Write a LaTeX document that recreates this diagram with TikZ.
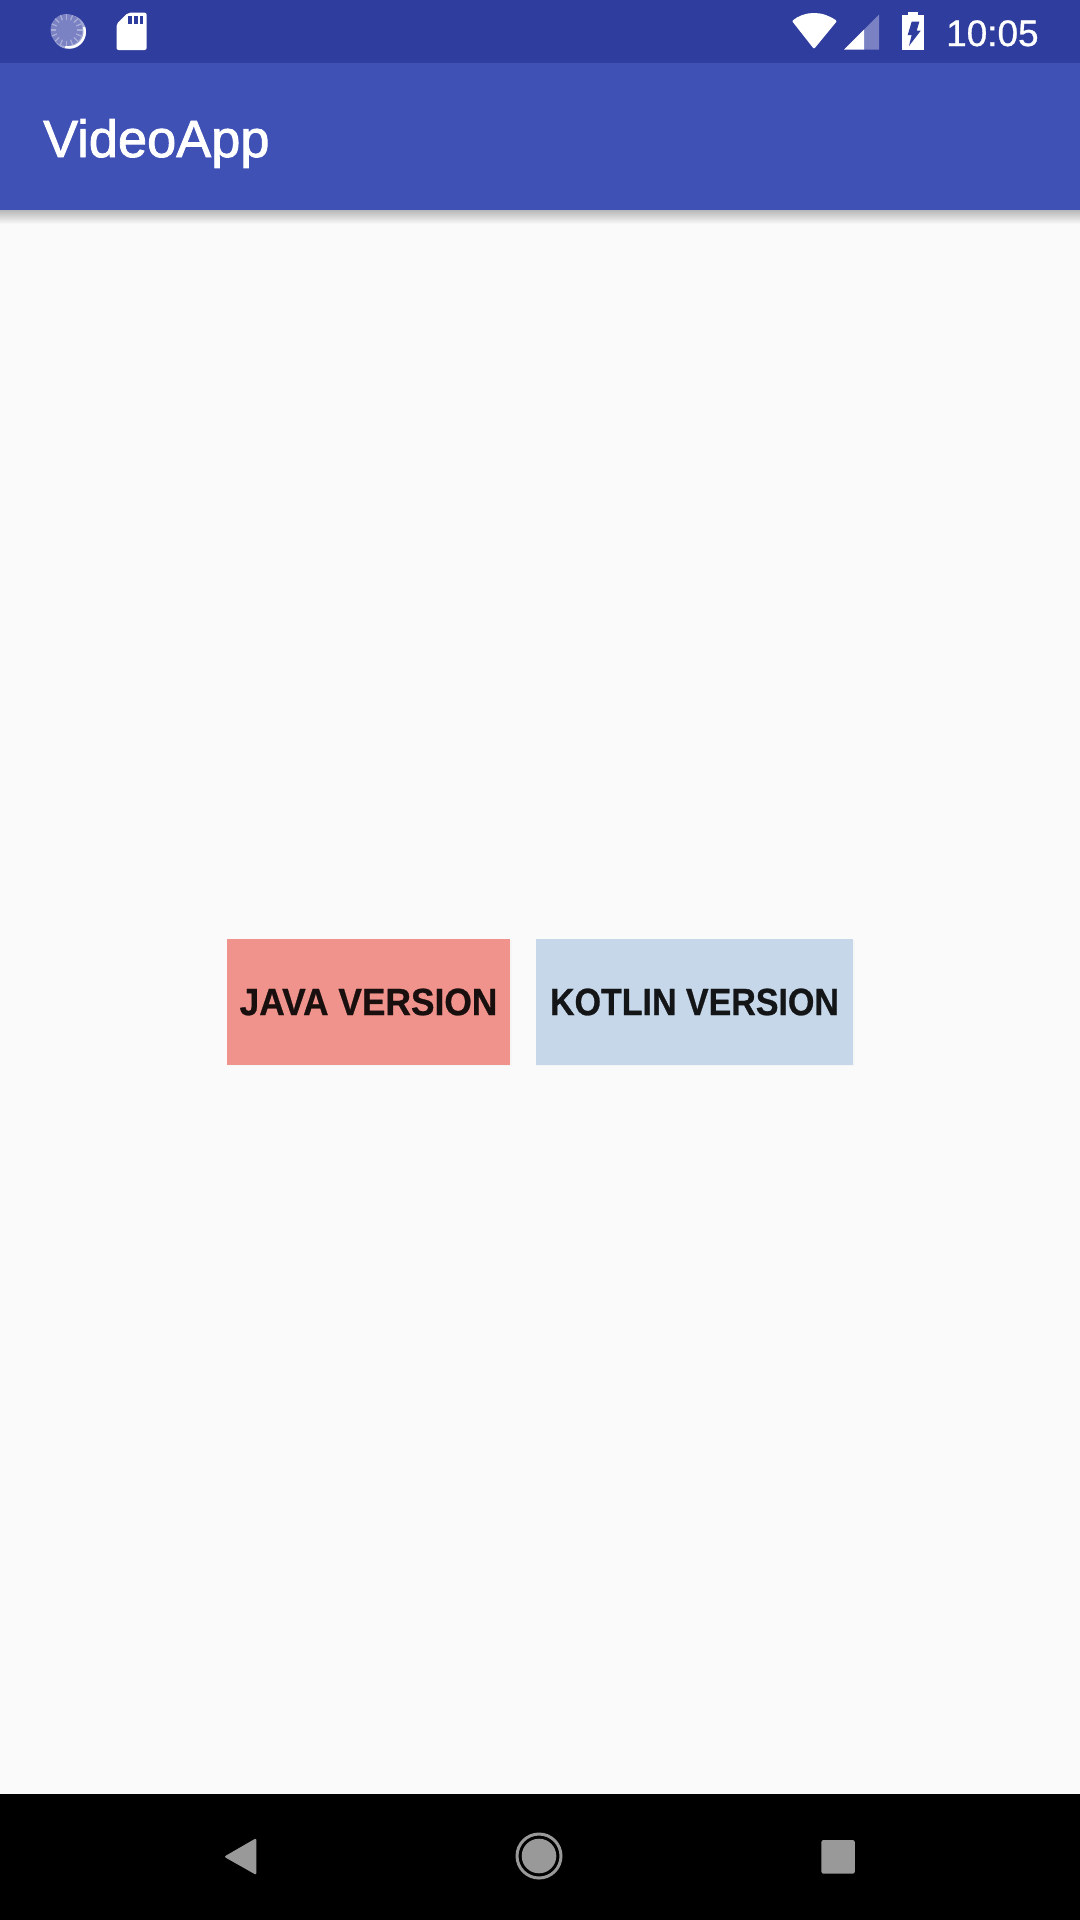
\documentclass[tikz,border=0pt]{standalone}
\usepackage{fontspec}
\setmainfont{Liberation Sans}
\newfontfamily\titlefont[FakeBold=1.6]{Liberation Sans}
\newfontfamily\clockfont[FakeBold=0.8]{Liberation Sans}
\newfontfamily\javafont[FakeStretch=0.93,FakeBold=0.7]{Liberation Sans Bold}
\newfontfamily\kotlinfont[FakeStretch=0.895,FakeBold=0.7]{Liberation Sans Bold}
\definecolor{statuscol}{HTML}{2F3D9E}
\definecolor{barcol}{HTML}{3F51B5}
\definecolor{pagecol}{HTML}{FAFAFA}
\definecolor{dimcol}{HTML}{7A82C3}
\definecolor{navcol}{HTML}{999999}
\definecolor{javacol}{HTML}{F0938C}
\definecolor{kotlincol}{HTML}{C5D7E9}
\tikzset{
	buttonbox/.style={minimum width=#1,minimum height=1.26cm},
	whitetext/.style={text=white,anchor=base west},
}

\begin{document}
\begin{tikzpicture}[x=0.01cm,y=0.01cm]
	\tikzstyle{every node}+=[inner sep=0pt]
	% page and bars
	\useasboundingbox (0,0) rectangle (1080,-1920);
	\fill [pagecol] (0,0) rectangle (1080,-1920);
	\shade [top color=black!28,bottom color=pagecol] (0,-210) rectangle (1080,-224);
	\fill [barcol] (0,-63) rectangle (1080,-210);
	\fill [statuscol] (0,0) rectangle (1080,-63);
	\fill [black] (0,-1794) rectangle (1080,-1920);
	\node [whitetext,font=\titlefont\fontsize{14.9}{18}\selectfont] (title) at (42.5,-157) {VideoApp};
	% spinner
	\fill [dimcol!70!white] (69,-32) circle (17);
	\draw [white,line width=0.7pt] (84,-27) arc (18:-105:15.5);
	\fill [dimcol] (66.5,-30) circle (16);
	\foreach \a in {0,22.5,...,337.5}
		\draw [dimcol!65!white,line width=0.35pt] (66.5,-30) ++(\a:10.5) -- ++(\a:5.5);
	% sd card
	\fill [white,rounded corners=0.6pt] (116.5,-50) -- (116.5,-24) -- (128,-12.7) -- (146.7,-12.7) -- (146.7,-50) -- cycle;
	\foreach \x in {128,134,139.5}
		\fill [statuscol] (\x,-16) rectangle ++(3.6,-8);
	% wifi
	\fill [white,rounded corners=0.3pt] (814,-49) -- (792,-21) .. controls (798,-16) and (806,-13) .. (814,-13) .. controls (822,-13) and (830,-16) .. (837,-21) -- cycle;
	% signal
	\fill [dimcol] (864,-49.5) -- (879,-49.5) -- (879,-14.7) -- (864,-29.5) -- cycle;
	\fill [white] (844,-49.5) -- (864,-49.5) -- (864,-29.5) -- cycle;
	% battery
	\fill [white] (902.3,-15) rectangle (924,-50);
	\fill [white] (908,-12) rectangle (918,-15);
	\fill [statuscol] (911.7,-21.7) -- (919.3,-21.7) -- (916.7,-30.7) -- (920.7,-30.7) -- (909,-46) -- (911.7,-35) -- (907.7,-35) -- cycle;
	\node [whitetext,font=\clockfont\fontsize{10.5}{13}\selectfont] (clock) at (945.5,-46) {10:05};
	% buttons
	\fill [black!4] (228,-940) rectangle (512,-1066);
	\fill [black!4] (536,-940) rectangle (855,-1066);
	\node [buttonbox=2.83cm,fill=javacol,text=black!90!javacol,font=\javafont\fontsize{10.8}{13}\selectfont] (java) at (368.5,-1002) {JAVA VERSION};
	\node [buttonbox=3.17cm,fill=kotlincol,text=black!90!kotlincol,font=\kotlinfont\fontsize{10.8}{13}\selectfont] (kotlin) at (694.5,-1002) {KOTLIN VERSION};
	% navigation keys
	\fill [navcol,rounded corners=0.6pt] (256.4,-1838) -- (256.4,-1875) -- (224,-1856.7) -- cycle;
	\draw [navcol,line width=0.85pt] (539,-1856) circle (22);
	\fill [navcol] (539,-1856) circle (17.3);
	\fill [navcol,rounded corners=0.6pt] (821.4,-1840) rectangle (854.8,-1873.7);
\end{tikzpicture}
\end{document}
